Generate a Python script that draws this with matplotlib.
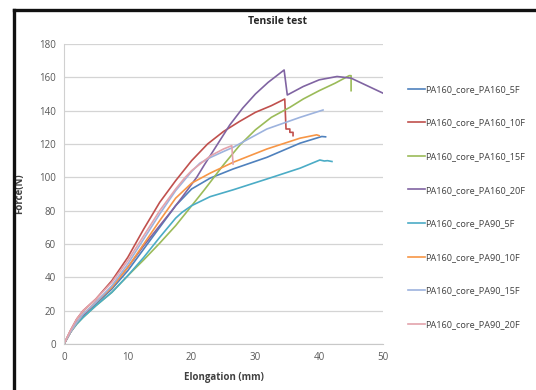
import matplotlib
matplotlib.use('Agg')
import matplotlib.pyplot as plt
from matplotlib.lines import Line2D

plt.rcParams['font.family'] = ['Open Sans', 'DejaVu Sans']

# Series: elongation (mm), force (N)
labels = ['PA160_core_PA160_5F', 'PA160_core_PA160_10F', 'PA160_core_PA160_15F',
          'PA160_core_PA160_20F', 'PA160_core_PA90_5F', 'PA160_core_PA90_10F',
          'PA160_core_PA90_15F', 'PA160_core_PA90_20F']

pa160_5f_x = [0, 1, 2, 3, 5, 7.5, 10, 12.5, 15, 17.5, 20, 22.9, 26.5, 31.8, 37, 40.4, 41]
pa160_5f_y = [0, 7, 13, 17, 24, 33, 44, 57, 70, 83, 93, 99.5, 105, 112, 120.5, 124.5, 124.3]

pa160_10f_x = [0, 1, 2, 3, 5, 7.5, 10, 12.5, 15, 17.5, 20, 22.5, 25, 27.5, 30, 32.5, 34.6,
               34.8, 35.4, 35.4, 35.9, 35.9]
pa160_10f_y = [0, 8, 15, 20, 27, 38, 52, 69, 85, 98, 110, 120, 127.5, 133.5, 139, 143, 147,
               129, 129, 127, 127, 125]

pa160_15f_x = [0, 1, 2, 3, 5, 7.5, 10, 12.5, 15, 17.5, 19.5, 22, 23.5, 25, 27.6, 30, 32.5,
               35.4, 37.5, 40, 42.5, 44.7, 45, 45]
pa160_15f_y = [0, 7, 12, 16, 23, 31, 41, 50.5, 60.5, 71, 80.5, 92.5, 100, 107.5, 119.5, 128.5, 136,
               142, 147, 152, 156.5, 161, 161, 152]

pa160_20f_x = [0, 1, 2, 3, 5, 7.5, 10, 12.5, 15, 16.9, 18.5, 20.8, 22, 24, 26, 28, 30, 32,
               34.5, 35.0, 37.5, 40, 42.8, 45, 47.5, 50]
pa160_20f_y = [0, 7, 13, 17, 25, 34, 46, 59, 71, 80, 88, 100, 107.5, 119.5, 131.5, 141.5, 150, 157,
               164.4, 149.4, 154.5, 158.5, 160.5, 159.5, 155, 150.5]

pa90_5f_x = [0, 1, 2, 3, 5, 7.5, 10, 12.5, 15, 17.5, 18.5, 20, 22.9, 26.5, 31.8, 37, 40.1,
             40.8, 41.3, 42]
pa90_5f_y = [0, 7, 12, 16, 23, 31, 41, 52, 64, 75.5, 79, 83, 88.4, 92.5, 99, 105.5, 110.4,
             109.8, 110, 109.5]

pa90_10f_x = [0, 1, 2, 3, 5, 7.5, 10, 12.5, 15, 17.5, 20, 22.9, 26.5, 31.8, 37, 39.6, 40]
pa90_10f_y = [0, 7, 13, 18, 25, 34, 46, 60, 74, 87.5, 96.5, 102.5, 109, 117, 123.5, 125.5, 125]

pa90_15f_x = [0, 1, 2, 3, 5, 7.5, 10, 12.5, 15, 17.5, 20, 21.3, 23, 25, 26.5, 31.8, 37, 40.6]
pa90_15f_y = [0, 7, 13, 18, 25, 35, 48, 63, 78, 92, 103.5, 108.5, 112, 115.5, 118, 129, 136, 140.4]

pa90_20f_x = [0, 1, 2, 3, 5, 7.5, 10, 12.5, 15, 17.5, 19, 20, 23, 25, 26.3, 26.5]
pa90_20f_y = [0, 8, 15, 20, 27, 37, 50, 65, 80, 93, 100, 104, 113, 117, 119, 108]

xs = [pa160_5f_x, pa160_10f_x, pa160_15f_x, pa160_20f_x,
      pa90_5f_x, pa90_10f_x, pa90_15f_x, pa90_20f_x]
ys = [pa160_5f_y, pa160_10f_y, pa160_15f_y, pa160_20f_y,
      pa90_5f_y, pa90_10f_y, pa90_15f_y, pa90_20f_y]
colors = ['#4F81BD', '#C0504D', '#9BBB59', '#8064A2',
          '#4BACC6', '#F79646', '#9DB3DE', '#E3A3AC']

W, H = 536, 390
fig = plt.figure(figsize=(W / 100, H / 100), dpi=100)
ax = fig.add_axes([64 / W, 1 - 344 / H, (383 - 64) / W, (344 - 44) / H])

for x, y, c, lab in zip(xs, ys, colors, labels):
    ax.plot(x, y, color=c, linewidth=1.2, label=lab)

ax.set_xlim(0, 50)
ax.set_ylim(0, 180)
ax.set_xticks(range(0, 51, 10))
ax.set_yticks(range(0, 181, 20))
ax.grid(axis='y', color='#D4D4D4', linewidth=0.9)
ax.set_axisbelow(True)
for s in ['top', 'right']:
    ax.spines[s].set_visible(False)
ax.spines['left'].set_color('#D0D0D0')
ax.spines['bottom'].set_color('#C8C8C8')
ax.tick_params(length=0, labelsize=7, labelcolor='#595959', pad=6)

ax.set_xlabel('Elongation (mm)', fontsize=7, fontweight='bold', color='#404040', labelpad=6)
ax.set_ylabel('Force(N)', fontsize=7, fontweight='bold', color='#404040', labelpad=10)
fig.text(277 / W, 1 - 22 / H, 'Tensile test', ha='center', va='center',
         fontsize=7.5, fontweight='bold', color='#262626')

ax.legend(loc='upper left', bbox_to_anchor=(408 / W, 1 - 85 / H),
          bbox_transform=fig.transFigure, frameon=False, fontsize=6.6,
          labelcolor='#404040', handlelength=1.8, handletextpad=0.1,
          labelspacing=2.68, borderpad=0, borderaxespad=0)

# black frame of the cropped screenshot (left and top edges)
fig.add_artist(Line2D([14 / W, 14 / W], [0, 1 - 9.5 / H], transform=fig.transFigure,
                      color='#111111', linewidth=2.4))
fig.add_artist(Line2D([14 / W, 1], [1 - 9.5 / H, 1 - 9.5 / H], transform=fig.transFigure,
                      color='#111111', linewidth=2.4))

fig.savefig('out.png', dpi=100)
